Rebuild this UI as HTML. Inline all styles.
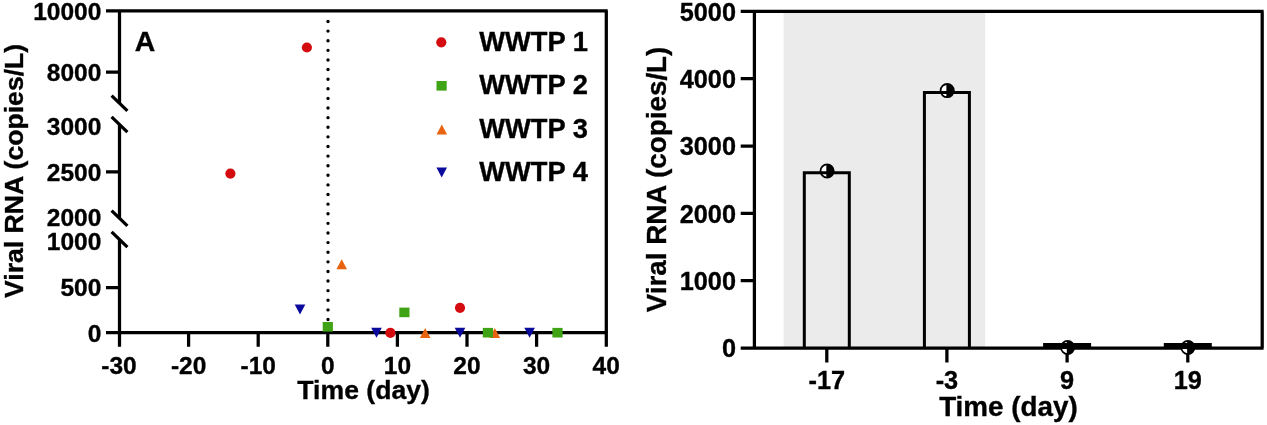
<!DOCTYPE html>
<html><head><meta charset="utf-8">
<style>
html,body{margin:0;padding:0;background:#fff;}
svg{display:block;filter:blur(0.55px);}
text{font-family:"Liberation Sans",Arial,sans-serif;font-weight:bold;fill:#000;stroke:#000;stroke-width:0.35px;}
.t{font-size:24.5px;}
.ax{font-size:26.6px;}
.ax2{font-size:27.8px;}
.t2{font-size:25.3px;}
.lg{font-size:27.3px;}
.l{stroke:#000;stroke-width:3.25;fill:none;stroke-linecap:butt;}
</style></head><body>
<svg width="1267" height="425" viewBox="0 0 1267 425">
<rect width="1267" height="425" fill="#fff"/>
<g id="left">
<path class="l" d="M106 10.8H607.6999999999999M606.3 10.8V346.8M106 332.7H607.6999999999999"/>
<path class="l" d="M119.5 10.8V103.3M119.5 124.5V218.3M119.5 239.5V346.8"/>
<path class="l" d="M111.6 95.7L127.4 110.89999999999999M111.6 116.9L127.4 132.1M111.6 210.70000000000002L127.4 225.9M111.6 231.9L127.4 247.1"/>
<path class="l" d="M106 72.2H119.5M106 171.9H119.5M106 287.5H119.5"/>
<path class="l" d="M188.6 332.7V346.8M258.2 332.7V346.8M327.8 332.7V346.8M397.4 332.7V346.8M467.0 332.7V346.8M536.6 332.7V346.8"/>
<path d="M328 21.5V322" stroke="#000" stroke-width="3.4" stroke-dasharray="0 9.613" stroke-linecap="round" fill="none"/>
<g class="t" text-anchor="end">
<text x="101.3" y="19.5">10000</text>
<text x="101.3" y="81">8000</text>
<text x="101.3" y="135.3">3000</text>
<text x="101.3" y="181">2500</text>
<text x="101.3" y="226.3">2000</text>
<text x="101.3" y="249.8">1000</text>
<text x="101.3" y="296.3">500</text>
<text x="101.3" y="342.1">0</text>
</g>
<g class="t" text-anchor="middle">
<text x="119.0" y="373.8">-30</text>
<text x="188.6" y="373.8">-20</text>
<text x="258.2" y="373.8">-10</text>
<text x="327.8" y="373.8">0</text>
<text x="397.4" y="373.8">10</text>
<text x="467.0" y="373.8">20</text>
<text x="536.6" y="373.8">30</text>
<text x="606.2" y="373.8">40</text>
</g>
<text class="ax" x="363.6" y="398.5" text-anchor="middle">Time (day)</text>
<text class="ax" transform="translate(23.1,170.9) rotate(-90)" text-anchor="middle">Viral RNA (copies/L)</text>
<text class="lg" x="134.7" y="51.3" style="font-size:28.4px">A</text>
<circle cx="441.3" cy="42.3" r="5.1" fill="#d40c10"/>
<rect x="436.5" y="81.0" width="10.2" height="9.6" fill="#3fa316"/>
<path d="M441.8 124.5L447.1 134.5H436.5Z" fill="#e8630f"/>
<path d="M441.7 177.5L447.0 167.5H436.4Z" fill="#0a0a9c"/>
<g class="lg">
<text x="479.2" y="51.3">WWTP 1</text>
<text x="479.2" y="94.3">WWTP 2</text>
<text x="479.2" y="137.9">WWTP 3</text>
<text x="479.2" y="180.8">WWTP 4</text>
</g>
<circle cx="230.4" cy="173.6" r="5.1" fill="#d40c10"/>
<circle cx="306.9" cy="47.5" r="5.1" fill="#d40c10"/>
<circle cx="390.4" cy="332.9" r="5.1" fill="#d40c10"/>
<circle cx="460.0" cy="307.8" r="5.1" fill="#d40c10"/>
<path d="M300.0 314.6L305.3 304.6H294.7Z" fill="#0a0a9c"/>
<path d="M376.5 337.8L381.8 327.8H371.2Z" fill="#0a0a9c"/>
<path d="M460.0 337.8L465.3 327.8H454.7Z" fill="#0a0a9c"/>
<path d="M529.6 337.8L534.9 327.8H524.3000000000001Z" fill="#0a0a9c"/>
<path d="M341.7 259.2L347.0 269.2H336.4Z" fill="#e8630f"/>
<path d="M425.2 328.0L430.5 338.0H419.9Z" fill="#e8630f"/>
<path d="M494.8 328.0L500.1 338.0H489.5Z" fill="#e8630f"/>
<rect x="322.7" y="322.0" width="10.2" height="9.6" fill="#3fa316"/>
<rect x="399.29999999999995" y="307.59999999999997" width="10.2" height="9.6" fill="#3fa316"/>
<rect x="482.79999999999995" y="327.9" width="10.2" height="9.6" fill="#3fa316"/>
<rect x="552.4" y="327.9" width="10.2" height="9.6" fill="#3fa316"/>
</g>
<g id="right">
<rect x="783.6" y="11.4" width="201.6" height="336.6" fill="#ebebeb"/>
<path class="l" d="M740.7 11.4H1263.6000000000001M1262.2 11.4V348.0M740.7 348.0H1263.6000000000001M754.4 11.4V348.0"/>
<path class="l" d="M740.7 280.7H754.4M740.7 213.4H754.4M740.7 146.0H754.4M740.7 78.7H754.4"/>
<path class="l" d="M826.8 348.0V362.4M946.9 348.0V362.4M1067.1 348.0V362.4M1187.8 348.0V362.4"/>
<circle cx="827.0999999999999" cy="171" r="6.4" fill="#fff"/>
<circle cx="947.1999999999999" cy="90.6" r="6.4" fill="#fff"/>
<circle cx="1067.6" cy="347.5" r="6.4" fill="#fff"/>
<circle cx="1187.8999999999999" cy="347.5" r="6.4" fill="#fff"/>
<path class="l" style="stroke-width:3" d="M804.3 348.0V172.8H849.3V348.0M924.4 348.0V92.5H969.4V348.0"/>
<rect x="1043.1" y="343" width="48.0" height="6" fill="#000"/><rect x="1163.8" y="343" width="48.0" height="6" fill="#000"/>
<circle cx="827.0999999999999" cy="171" r="6.6" fill="none" stroke="#000" stroke-width="1.8"/><path d="M826.3 164.4H827.0999999999999A6.6 6.6 0 0 1 827.0999999999999 177.6H826.3Z" fill="#000"/>
<circle cx="947.1999999999999" cy="90.6" r="6.6" fill="none" stroke="#000" stroke-width="1.8"/><path d="M946.4 84.0H947.1999999999999A6.6 6.6 0 0 1 947.1999999999999 97.19999999999999H946.4Z" fill="#000"/>
<circle cx="1067.6" cy="347.5" r="6.6" fill="none" stroke="#000" stroke-width="1.8"/><path d="M1066.8 340.9H1067.6A6.6 6.6 0 0 1 1067.6 354.1H1066.8Z" fill="#000"/>
<circle cx="1187.8999999999999" cy="347.5" r="6.6" fill="none" stroke="#000" stroke-width="1.8"/><path d="M1187.1 340.9H1187.8999999999999A6.6 6.6 0 0 1 1187.8999999999999 354.1H1187.1Z" fill="#000"/>
<g class="t2" text-anchor="end">
<text x="736" y="357.4">0</text>
<text x="736" y="290.1">1000</text>
<text x="736" y="222.8">2000</text>
<text x="736" y="155.4">3000</text>
<text x="736" y="88.1">4000</text>
<text x="736" y="20.8">5000</text>
</g>
<g class="t2" text-anchor="middle">
<text x="826.8" y="388.8">-17</text>
<text x="946.9" y="388.8">-3</text>
<text x="1067.1" y="388.8">9</text>
<text x="1187.8" y="388.8">19</text>
</g>
<text class="ax2" x="1008.4" y="416.1" text-anchor="middle">Time (day)</text>
<text class="ax2" transform="translate(666.4,179.5) rotate(-90)" text-anchor="middle">Viral RNA (copies/L)</text>
</g>
</svg>
</body></html>
